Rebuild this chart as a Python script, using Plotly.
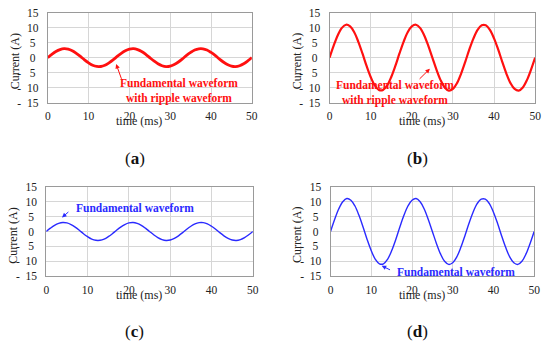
import plotly.graph_objects as go

# ---- data ----
time_ms = list(range(0, 51))
small_half = [0, 1.1, 2.05, 2.7, 3.0, 2.85, 2.3, 1.45, 0.4, -0.75, -1.75, -2.55, -2.95,
              -2.95, -2.55, -1.75, -0.75, 0.4, 1.45, 2.3, 2.85, 3.0, 2.7, 2.05, 1.1]
large_half = [0, 4.0, 7.5, 9.95, 11.0, 10.45, 8.5, 5.3, 1.4, -2.75, -6.45, -9.3, -10.8,
              -10.8, -9.3, -6.45, -2.75, 1.4, 5.3, 8.5, 10.45, 11.0, 9.95, 7.5, 4.0]
current_a = small_half + [0] + [-v for v in small_half[1:]] + [0]
current_b = large_half + [0] + [-v for v in large_half[1:]] + [0]
current_c = list(current_a)
current_d = list(current_b)

NB = "\u00a0"
y_tick_vals = [15, 10, 5, 0, -5, -10, -15]
y_tick_text = ["15", "10", "5" + NB, "0" + NB, "-" + NB * 3 + "5" + NB, "-" + NB * 2 + "10", "-" + NB * 2 + "15"]
x_tick_vals = [0, 10, 20, 30, 40, 50]

W, H = 550, 349
FONT = "Liberation Serif"
RED = "#ff1010"
BLUE = "#2a2aff"
TXT = "#222222"

panels = [
    (current_a, RED, 2.8, (45.5, 253), (7, 100), "a"),
    (current_b, RED, 2.2, (332, 541), (7, 100), "b"),
    (current_c, BLUE, 1.4, (44, 254), (187, 280), "c"),
    (current_d, BLUE, 1.4, (333, 540), (187, 280), "d"),
]


def px2data(i, px, py):
    (_, _, _, (x0, x1), (y0, y1), _) = panels[i]
    return (px - x0) / (x1 - x0) * 50, 15 - (py - y0) / (y1 - y0) * 30


fig = go.Figure()
annotations = []
for i, (ys, col, lw, (x0, x1), (y0, y1), cap) in enumerate(panels):
    n = "" if i == 0 else str(i + 1)
    fig.add_trace(go.Scatter(x=time_ms, y=ys, mode="lines",
                             line=dict(color=col, width=lw, shape="spline", smoothing=1.0),
                             xaxis="x" + n, yaxis="y" + n, showlegend=False, hoverinfo="skip"))
    fig.layout["xaxis" + n] = dict(
        domain=[x0 / W, x1 / W], anchor="y" + n, range=[0, 50], tickvals=x_tick_vals,
        showgrid=True, gridcolor="#d6d6d6", gridwidth=1, zeroline=False,
        showline=True, linecolor="#9a9a9a", linewidth=1, mirror=True, ticks="",
        tickfont=dict(family=FONT, size=11.5, color=TXT), ticklabelstandoff=3)
    fig.layout["yaxis" + n] = dict(
        domain=[1 - y1 / H, 1 - y0 / H], anchor="x" + n, range=[-15, 15],
        tickvals=y_tick_vals, ticktext=y_tick_text,
        showgrid=True, gridcolor="#d6d6d6", gridwidth=1, zeroline=False,
        showline=True, linecolor="#9a9a9a", linewidth=1, mirror=True, ticks="",
        tickfont=dict(family=FONT, size=11.5, color=TXT), ticklabelstandoff=6)
    cx = (x0 + x1) / 2
    annotations.append(dict(xref="paper", yref="paper", x=(x0 - 33.5) / W,
                            y=1 - ((y0 + y1) / 2 + 4) / H,
                            text="Current (A)", textangle=-90, showarrow=False,
                            font=dict(family=FONT, size=12, color=TXT),
                            xanchor="center", yanchor="middle"))
    annotations.append(dict(xref="paper", yref="paper", x=(cx - 10.5) / W, y=1 - (y1 + 19) / H,
                            text="time (ms)", showarrow=False,
                            font=dict(family=FONT, size=12, color=TXT),
                            xanchor="center", yanchor="middle"))
    annotations.append(dict(xref="paper", yref="paper", x=(cx - 15.5) / W,
                            y=1 - (y1 + 57.5) / H,
                            text="(<b>" + cap + "</b>)", showarrow=False,
                            font=dict(family=FONT, size=17, color="#111"),
                            xanchor="center", yanchor="middle"))

lab_font_r = dict(family=FONT, size=11.5, color=RED)
lab_font_b = dict(family=FONT, size=11.5, color=BLUE)


def arrow(i, tip_px, tail_px, color):
    n = "" if i == 0 else str(i + 1)
    tx, ty = px2data(i, *tip_px)
    ax, ay = px2data(i, *tail_px)
    return dict(xref="x" + n, yref="y" + n, x=tx, y=ty, ax=ax, ay=ay,
                axref="x" + n, ayref="y" + n, text="", showarrow=True,
                arrowhead=2, arrowsize=0.9, arrowwidth=1, arrowcolor=color)


# (a)
annotations.append(dict(xref="paper", yref="paper", x=178.5 / W, y=1 - 88.5 / H,
                        text="<b>Fundamental waveform<br>with ripple waveform</b>",
                        showarrow=False, font=lab_font_r, xanchor="center", yanchor="middle"))
annotations.append(arrow(0, (115, 60), (121, 77), RED))
# (b)
annotations.append(dict(xref="paper", yref="paper", x=398.5 / W, y=1 - 90 / H,
                        text="<b>Fundamental waveform<br>with ripple waveform</b>",
                        showarrow=False, font=lab_font_r, xanchor="center", yanchor="middle"))
annotations.append(arrow(1, (434, 65), (422, 77), RED))
# (c)
annotations.append(dict(xref="paper", yref="paper", x=72 / W, y=1 - 209 / H,
                        text="<b>Fundamental waveform</b>",
                        showarrow=False, font=lab_font_b, xanchor="left", yanchor="middle"))
annotations.append(arrow(2, (60, 219), (68, 212), BLUE))
# (d)
annotations.append(dict(xref="paper", yref="paper", x=399 / W, y=1 - 275 / H,
                        text="<b>Fundamental waveform</b>",
                        showarrow=False, font=lab_font_b, xanchor="left", yanchor="middle"))
annotations.append(arrow(3, (385, 269), (395, 274), BLUE))

fig.update_layout(width=W, height=H, margin=dict(l=0, r=0, t=0, b=0),
                  paper_bgcolor="white", plot_bgcolor="white",
                  annotations=annotations, showlegend=False)
fig.write_html("out.html", config={"displayModeBar": False},
               post_script="document.body.style.margin='0';")
